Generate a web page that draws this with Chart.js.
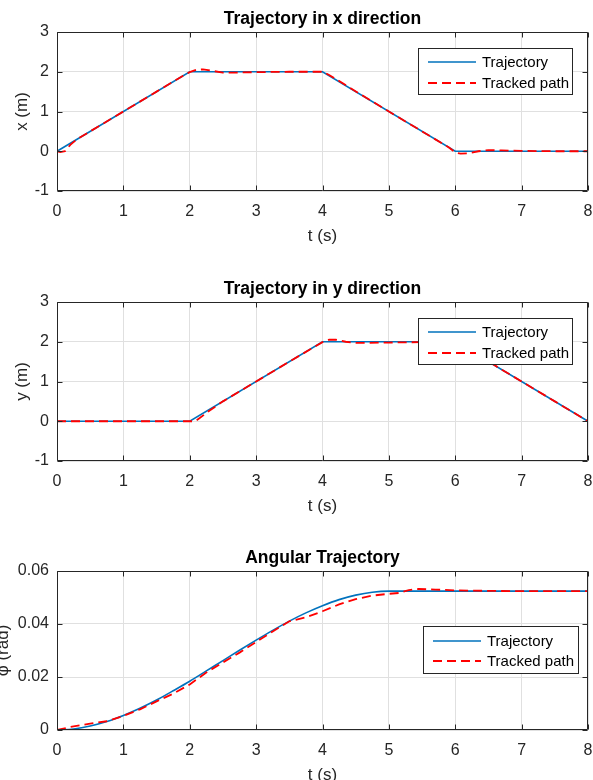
<!DOCTYPE html>
<html>
<head>
<meta charset="utf-8">
<script src="https://cdn.jsdelivr.net/npm/chart.js@4.4.1/dist/chart.umd.min.js"></script>
<style>
  html, body { margin: 0; padding: 0; background: #fff; }
  #fig { position: relative; width: 593px; height: 780px; overflow: hidden; background: #fff; }
  #fig canvas { position: absolute; left: 0; }
</style>
</head>
<body>
<div id="fig">
  <canvas id="cx" width="593" height="270" style="top:0px"></canvas>
  <canvas id="cy" width="593" height="270" style="top:270px"></canvas>
  <canvas id="cphi" width="593" height="270" style="top:539px"></canvas>
</div>
<script>
// ---- data ----
const timeTicks = [0, 1, 2, 3, 4, 5, 6, 7, 8];
const posTicks = [-1, 0, 1, 2, 3];
const phiTicks = [0, 0.02, 0.04, 0.06];
const seriesNames = ['Trajectory', 'Tracked path'];

// commanded x / y trajectories (corner points)
const tRef = [0, 2, 4, 6, 8];
const xRef = [0, 2, 2, 0, 0];
const yRef = [0, 0, 2, 2, 0];

// tracked x
const tTrackX = [0, 0.05, 0.12, 0.2, 0.3, 0.5, 1, 1.5, 1.9, 2.0, 2.1, 2.2, 2.35, 2.5, 2.7, 3, 3.5, 4, 4.1, 4.2, 4.4, 5, 5.5, 5.9, 6.0, 6.08, 6.2, 6.35, 6.5, 6.7, 7, 7.5, 8];
const xTrack  = [0, -0.02, 0.0, 0.16, 0.3, 0.5, 1.0, 1.5, 1.9, 1.99, 2.05, 2.06, 2.02, 1.98, 1.98, 1.99, 2.0, 2.0, 1.92, 1.82, 1.61, 1.0, 0.5, 0.1, -0.03, -0.06, -0.05, 0.0, 0.03, 0.02, 0.01, 0.0, 0.0];

// tracked y
const tTrackY = [0, 2.0, 2.08, 2.15, 2.3, 2.5, 3, 3.5, 4, 4.1, 4.2, 4.35, 4.5, 5, 5.5, 6, 6.1, 6.3, 6.6, 7, 7.5, 8];
const yTrack  = [0, 0, 0.0, 0.08, 0.27, 0.5, 1.0, 1.5, 1.99, 2.05, 2.05, 2.0, 1.97, 1.98, 1.99, 2.0, 1.92, 1.71, 1.4, 1.0, 0.5, 0.0];

// commanded heading angle (rad)
const tPhiRef = [0, 0.25, 0.5, 0.75, 1, 1.25, 1.5, 1.75, 2, 2.25, 2.5, 2.75, 3, 3.25, 3.5, 3.75, 4, 4.25, 4.5, 4.75, 5, 6, 7, 8];
const phiRef  = [0, 0.0004, 0.0015, 0.0032, 0.0055, 0.0082, 0.0113, 0.0148, 0.0184, 0.0223, 0.0262, 0.0301, 0.0339, 0.0376, 0.0411, 0.0442, 0.0469, 0.0492, 0.0509, 0.0520, 0.0524, 0.0524, 0.0524, 0.0524];

// tracked heading angle (rad)
const tPhiTrack = [0, 0.25, 0.5, 0.75, 1, 1.25, 1.5, 1.75, 2, 2.25, 2.5, 2.75, 3, 3.25, 3.5, 3.75, 4, 4.25, 4.5, 4.75, 5, 5.15, 5.3, 5.45, 5.7, 6, 6.5, 7, 8];
const phiTrack  = [0, 0.0014, 0.0024, 0.0033, 0.0053, 0.0078, 0.0108, 0.0137, 0.0172, 0.0217, 0.0255, 0.0292, 0.0332, 0.0372, 0.0410, 0.0425, 0.0448, 0.0474, 0.0494, 0.0507, 0.0514, 0.0517, 0.0528, 0.0532, 0.0530, 0.0527, 0.0525, 0.0524, 0.0524];

// ---- styling ----
const FONT = "'Liberation Sans', Arial, Helvetica, sans-serif";
const AXIS_COLOR = '#262626';
const GRID_COLOR = '#e0e0e0';
const BLUE = '#0072BD';
const RED = '#ff0000';

const pts = (ts, vs) => ts.map((t, i) => ({ x: t, y: vs[i] }));

// box around the axes with inward tick marks on all four sides
const framePlugin = {
  id: 'frame',
  afterDatasetsDraw(chart) {
    const { ctx, chartArea: a, scales } = chart;
    const L = Math.round(a.left) + 0.5, R = Math.round(a.right) - 0.5;
    const T = Math.round(a.top) + 0.5, B = Math.round(a.bottom) - 0.5;
    ctx.save();
    ctx.strokeStyle = AXIS_COLOR;
    ctx.lineWidth = 1;
    ctx.beginPath();
    ctx.rect(L, T, R - L, B - T);
    const tl = 5;
    scales.x.ticks.forEach(tk => {
      const px = Math.round(scales.x.getPixelForValue(tk.value)) + 0.5;
      ctx.moveTo(px, B); ctx.lineTo(px, B - tl);
      ctx.moveTo(px, T); ctx.lineTo(px, T + tl);
    });
    scales.y.ticks.forEach(tk => {
      const py = Math.round(scales.y.getPixelForValue(tk.value)) + 0.5;
      ctx.moveTo(L, py); ctx.lineTo(L + tl, py);
      ctx.moveTo(R, py); ctx.lineTo(R - tl, py);
    });
    ctx.stroke();
    ctx.restore();
  }
};

// boxed legend inside the axes
const boxLegendPlugin = {
  id: 'boxLegend',
  afterDraw(chart, args, o) {
    const { ctx, chartArea: a } = chart;
    const x0 = Math.round(a.right - o.fromRight), y0 = Math.round(a.top + o.fromTop);
    ctx.save();
    ctx.fillStyle = '#fff';
    ctx.fillRect(x0, y0, o.width, o.height);
    ctx.strokeStyle = AXIS_COLOR;
    ctx.lineWidth = 1;
    ctx.strokeRect(x0 + 0.5, y0 + 0.5, o.width, o.height);
    ctx.font = `15px ${FONT}`;
    ctx.textBaseline = 'middle';
    ctx.textAlign = 'left';
    chart.data.datasets.slice().sort((p, q) => p.legendIndex - q.legendIndex).forEach((ds, i) => {
      const cy = y0 + o.rows[i];
      ctx.beginPath();
      ctx.strokeStyle = ds.borderColor;
      ctx.lineWidth = ds.borderWidth;
      ctx.setLineDash(ds.borderDash || []);
      ctx.moveTo(x0 + 10, cy);
      ctx.lineTo(x0 + 58, cy);
      ctx.stroke();
      ctx.setLineDash([]);
      ctx.fillStyle = '#000';
      ctx.fillText(ds.label, x0 + 64, cy + 0.5);
    });
    ctx.restore();
  }
};

function makePanel(canvasId, cfg) {
  const tickFont = { family: FONT, size: 16 };
  const labelFont = { family: FONT, size: 17 };
  return new Chart(document.getElementById(canvasId), {
    type: 'line',
    data: {
      datasets: [
        {
          label: seriesNames[1], legendIndex: 1, order: 0,
          data: cfg.tracked, borderColor: RED, borderWidth: 1.8, borderDash: [9, 5],
          pointRadius: 0, fill: false, tension: 0, cubicInterpolationMode: 'default'
        },
        {
          label: seriesNames[0], legendIndex: 0, order: 1,
          data: cfg.reference, borderColor: BLUE, borderWidth: 1.6,
          pointRadius: 0, fill: false, tension: 0, cubicInterpolationMode: cfg.smooth ? 'monotone' : 'default'
        }
      ]
    },
    options: {
      responsive: false,
      animation: false,
      devicePixelRatio: 1,
      layout: { padding: { left: 0, right: 5, top: 0, bottom: 0 } },
      plugins: {
        legend: { display: false },
        tooltip: { enabled: false },
        title: {
          display: true, text: cfg.title, color: '#000', fullSize: false,
          font: { family: FONT, size: 17.5, weight: 'bold', lineHeight: 1.2 },
          padding: { top: 9, bottom: 2 }
        },
        boxLegend: cfg.legend
      },
      scales: {
        x: {
          type: 'linear', min: 0, max: 8,
          afterBuildTicks: s => { s.ticks = timeTicks.map(v => ({ value: v })); },
          afterFit: s => { s.height = 79; s.paddingLeft = 0; s.paddingRight = 0; },
          grid: { color: GRID_COLOR, drawTicks: false },
          border: { display: false },
          ticks: { font: tickFont, color: AXIS_COLOR, padding: 11, maxRotation: 0 },
          title: { display: true, text: 't (s)', font: labelFont, color: AXIS_COLOR, padding: { top: 0, bottom: 23 } }
        },
        y: {
          type: 'linear', min: cfg.yMin, max: cfg.yMax,
          afterBuildTicks: s => { s.ticks = cfg.yTicks.map(v => ({ value: v })); },
          afterFit: s => { s.width = 57; s.paddingTop = 0; s.paddingBottom = 0; },
          grid: { color: GRID_COLOR, drawTicks: false },
          border: { display: false },
          ticks: { font: tickFont, color: AXIS_COLOR, padding: 8, callback: cfg.yFormat },
          title: { display: true, text: cfg.yLabel, font: labelFont, color: AXIS_COLOR, padding: { top: cfg.yLabelPad, bottom: 0 } }
        }
      }
    },
    plugins: [framePlugin, boxLegendPlugin]
  });
}

makePanel('cx', {
  title: 'Trajectory in x direction', yLabel: 'x (m)', yLabelPad: 12,
  yMin: -1, yMax: 3, yTicks: posTicks, yFormat: v => String(v),
  reference: pts(tRef, xRef), tracked: pts(tTrackX, xTrack), smooth: false,
  legend: { fromRight: 170, fromTop: 16, width: 154, height: 46, rows: [14, 35] }
});

makePanel('cy', {
  title: 'Trajectory in y direction', yLabel: 'y (m)', yLabelPad: 12,
  yMin: -1, yMax: 3, yTicks: posTicks, yFormat: v => String(v),
  reference: pts(tRef, yRef), tracked: pts(tTrackY, yTrack), smooth: false,
  legend: { fromRight: 170, fromTop: 16, width: 154, height: 46, rows: [14, 35] }
});

makePanel('cphi', {
  title: 'Angular Trajectory', yLabel: 'φ (rad)', yLabelPad: -7,
  yMin: 0, yMax: 0.06, yTicks: phiTicks, yFormat: v => (v === 0 ? '0' : v.toFixed(2)),
  reference: pts(tPhiRef, phiRef), tracked: pts(tPhiTrack, phiTrack), smooth: true,
  legend: { fromRight: 165, fromTop: 55, width: 155, height: 47, rows: [15, 35] }
});
</script>
</body>
</html>
